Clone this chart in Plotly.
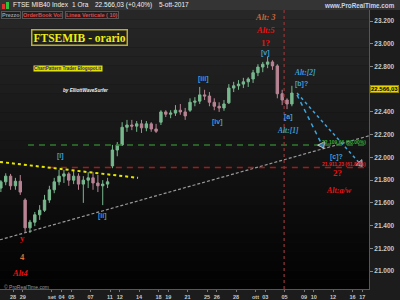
import plotly.graph_objects as go

# ---------------- data ----------------
# half-day bars (trading-day index, 0 = 28 Aug)
bar_t = [-1.25 + 0.5 * i for i in range(61)]
opens = [21730,21785,21835,21750,21790,21625,21380,21430,21495,21535,
         21625,21715,21785,21835,21855,21800,21835,21765,21800,21820,
         21775,21750,21765,21925,22065,22110,22265,22285,22275,22295,
         22260,22295,22250,22310,22400,22380,22390,22415,22400,22415,
         22485,22495,22550,22540,22485,22450,22435,22480,22610,22630,
         22645,22665,22690,22745,22795,22820,22840,22805,22560,22505,22470]
highs = [21800,21860,21855,21820,21845,21640,21450,21520,21580,21670,
         21750,21820,21890,21890,21870,21890,21860,21835,21870,21870,
         21845,21800,21820,22110,22135,22310,22330,22330,22320,22330,
         22320,22310,22295,22415,22415,22415,22460,22470,22435,22520,
         22530,22620,22595,22575,22520,22485,22505,22645,22665,22680,
         22700,22705,22770,22820,22840,22885,22855,22820,22595,22520,22630]
lows = [21695,21755,21715,21715,21670,21335,21335,21395,21450,21520,
        21600,21685,21755,21775,21750,21765,21715,21600,21730,21715,
        21695,21580,21730,21905,22010,22100,22225,22240,22225,22215,
        22230,22225,22215,22285,22355,22345,22365,22375,22330,22400,
        22450,22470,22505,22450,22415,22400,22410,22470,22575,22595,
        22610,22620,22655,22715,22750,22785,22770,22520,22460,22425,22450]
closes = [21785,21835,21750,21790,21695,21380,21430,21495,21535,21625,
          21715,21785,21835,21855,21800,21835,21765,21800,21820,21775,
          21750,21765,21785,22065,22110,22265,22285,22275,22295,22260,
          22295,22250,22230,22400,22380,22390,22415,22400,22365,22485,
          22495,22550,22540,22485,22450,22435,22470,22610,22630,22645,
          22665,22690,22745,22795,22820,22840,22805,22560,22505,22470,22566]

tick_pos = [0, 1, 4, 5, 6, 8, 10, 11, 13, 15, 16, 18, 20, 21, 23, 25, 26, 28, 30, 31, 33, 35, 36]
tick_lbl = ["28", "29", "set", "04", "05", "07", "11", "12", "14", "18", "19", "21",
            "25", "26", "28", "ott", "03", "05", "09", "10", "12", "16", "17"]
price_ticks = [21000, 21200, 21400, 21600, 21800, 22000, 22200, 22400, 22800, 23000, 23200]

last_price = 22566.03
fib50 = 22109.66
fib618 = 21911.23
vline_t = 27.95

yellow_t = [-1.34, 12.89]
yellow_p = [21960, 21820]
gray_t = [-1.34, 36.7]
gray_p = [21275, 22190]
fib50_t = [1.55, 36.7]
fib618_t = [3.8, 36.7]
arrowA_t = [29.28, 35.77]
arrowA_p = [22566, 21945]
arrowB_t = [29.28, 31.86]
arrowB_p = [22550, 22109.66]

X_RANGE = [-1.34, 36.7]
Y_RANGE = [20842, 23297]

# ---------------- figure ----------------
fig = go.Figure()

fig.add_trace(go.Scatter(x=gray_t, y=gray_p, mode="lines",
                         line=dict(color="#9a9a9a", width=1.2, dash="3px,2px")))
fig.add_trace(go.Scatter(x=fib50_t, y=[fib50, fib50], mode="lines",
                         line=dict(color="#2f7a2f", width=1.6, dash="6px,5px")))
fig.add_trace(go.Scatter(x=fib618_t, y=[fib618, fib618], mode="lines",
                         line=dict(color="#a81a1a", width=1.6, dash="6px,5px")))
fig.add_trace(go.Scatter(x=yellow_t, y=yellow_p, mode="lines",
                         line=dict(color="#e6e600", width=2, dash="dot")))

fig.add_trace(go.Candlestick(
    x=bar_t, open=opens, high=highs, low=lows, close=closes,
    increasing=dict(line=dict(color="#78b88e", width=1), fillcolor="#78b88e"),
    decreasing=dict(line=dict(color="#b88494", width=1), fillcolor="#b88494"),
    whiskerwidth=0))

fig.add_trace(go.Scatter(x=arrowA_t, y=arrowA_p, mode="lines+markers",
                         line=dict(color="#3ca6e0", width=1.5, dash="dot"),
                         marker=dict(symbol="triangle-up", size=[0, 7], angleref="previous",
                                     color="#3ca6e0")))
fig.add_trace(go.Scatter(x=arrowB_t, y=arrowB_p, mode="lines+markers",
                         line=dict(color="#3ca6e0", width=1.5, dash="4px,4px"),
                         marker=dict(symbol="triangle-up", size=[0, 7], angleref="previous",
                                     color="#3ca6e0")))

PH = 279.0
PW = 369.0
def px(xp):
    return xp / PW
def py(yp):
    return (289 - yp) / PH

shapes = []
# background gradient bands in plot area
N = 30
for i in range(N):
    f = (i + 0.5) / N
    c = int(2 + 38 * f)
    shapes.append(dict(type="rect", xref="paper", yref="paper", x0=0, x1=1,
                       y0=i / N, y1=(i + 1) / N, fillcolor=f"rgb({c},{c},{c})",
                       line=dict(width=0), layer="below"))
# header bar
shapes.append(dict(type="rect", xref="paper", yref="paper", x0=0, x1=400 / PW,
                   y0=1, y1=1 + 10 / PH, fillcolor="#343434", line=dict(width=0)))
shapes.append(dict(type="rect", xref="paper", yref="paper", x0=px(2), x1=px(5),
                   y0=py(9), y1=py(4), fillcolor="#e03030", line=dict(width=0)))
shapes.append(dict(type="rect", xref="paper", yref="paper", x0=px(6), x1=px(9),
                   y0=py(9), y1=py(2), fillcolor="#30c040", line=dict(width=0)))
# vertical marker line
shapes.append(dict(type="line", xref="x", yref="paper", x0=vline_t, x1=vline_t,
                   y0=0, y1=1, line=dict(color="#8a3434", width=1.3, dash="dot")))
fig.update_layout(shapes=shapes)

ann = []
def txt(x, y, t, color, size, family="Liberation Sans", xref="x", yref="y", **kw):
    d = dict(x=x, y=y, xref=xref, yref=yref, text=t, showarrow=False,
             xanchor="center", yanchor="middle",
             font=dict(color=color, size=size, family=family))
    d.update(kw)
    ann.append(d)

# header texts
hx = dict(xref="paper", yref="paper", xanchor="left")
txt(px(11), py(5), "FTSE MIB40 Index", "#f0f0f0", 6.5, **hx)
txt(px(70), py(5), "1 Ora", "#f0f0f0", 6.5, **hx)
txt(px(93), py(5), "22.566,03 (+0,40%)", "#f0f0f0", 6.5, **hx)
txt(px(157), py(5), "5-ott-2017", "#f0f0f0", 6.5, **hx)
txt(px(397), py(5.5), "<b>www.ProRealTime.com</b>", "#c8d2ee", 6.3,
    xref="paper", yref="paper", xanchor="right")
txt(px(1), py(15), "<b>Prezzo</b>", "#9a9a9a", 5.5, bordercolor="#555", borderpad=0,
    bgcolor="#1e1e1e", **hx)
txt(px(22), py(15), "<b>OrderBook Vol</b>", "#e04848", 5.5, bordercolor="#555", borderpad=0,
    bgcolor="#1e1e1e", **hx)
txt(px(65), py(15), "<b>Linea Verticale ( 10)</b>", "#e04848", 5.5, bordercolor="#555",
    borderpad=0, bgcolor="#1e1e1e", **hx)

# title box
txt(px(79), py(37.5), "<b>FTSEMIB - orario</b>", "#eeee10", 11.5, family="Liberation Serif",
    xref="paper", yref="paper", bordercolor="#b8ae30", borderwidth=1.5, borderpad=1,
    bgcolor="#202020")
txt(px(68), py(68), "<b>ChartPattern Trader Blogspot.it</b>", "#2a2a80", 4.5,
    xref="paper", yref="paper", bgcolor="#e2e200", borderpad=0)
txt(px(85), py(91), "<b><i>by ElliottWaveSurfer</i></b>", "#f0f0f0", 4.6,
    xref="paper", yref="paper")

# last price label
txt(px(384.5), py(89), "<b>22.566,03</b>", "#000000", 6, xref="paper", yref="paper",
    bgcolor="#e8d400", bordercolor="#9a8a00", borderpad=0)

# fib labels
txt(px(368), fib50, "<b>22.109,66 (50.00%)</b>", "#3aaa3a", 5, xref="paper",
    xanchor="right", yshift=3)
txt(px(368), fib618, "<b>21.911,23 (61.80%)</b>", "#e82020", 5, xref="paper",
    xanchor="right", yshift=3)

BLUE = "#3c9fd8"
RED = "#e81212"
SERIF = "Liberation Serif"
txt(25.98, 23235, "<b><i>Alt: 3</i></b>", "#c8683a", 8.5, family=SERIF)
txt(26.08, 23121, "<b><i>Alt:5</i></b>", RED, 8.5, family=SERIF)
txt(26.08, 23006, "<b>1?</b>", RED, 9, family=SERIF)
txt(26.08, 22918, "<b>[v]</b>", BLUE, 7)
txt(19.59, 22690, "<b>[iii]</b>", BLUE, 7)
txt(21.13, 22311, "<b>[iv]</b>", BLUE, 7)
txt(28.35, 22355, "<b>[a]</b>", BLUE, 7)
txt(28.35, 22241, "<b><i>Alt:[1]</i></b>", BLUE, 7.5, family=SERIF)
txt(30.1, 22751, "<b><i>Alt:[2]</i></b>", BLUE, 7.5, family=SERIF)
txt(29.79, 22646, "<b>[b]?</b>", BLUE, 7)
txt(33.4, 22003, "<b>[c]?</b>", BLUE, 7)
txt(33.5, 21862, "<b>2?</b>", RED, 9, family=SERIF)
txt(33.6, 21713, "<b><i>Alt:a/w</i></b>", RED, 8, family=SERIF)
txt(4.85, 22012, "<b>[i]</b>", BLUE, 7)
txt(9.18, 21484, "<b>[ii]</b>", BLUE, 7)
txt(0.93, 21290, "<b>y</b>", RED, 9, family=SERIF)
txt(1.03, 21123, "<b>4</b>", "#e07030", 8.5, family=SERIF)
txt(0.72, 20985, "<b><i>Alt4</i></b>", RED, 8.5, family=SERIF)
txt(px(2), py(286.5), "© ProRealTime.com", "#9a9a9a", 5, xref="paper", yref="paper",
    xanchor="left")

fig.update_layout(
    annotations=ann,
    width=400, height=300,
    margin=dict(l=0, r=31, t=10, b=11),
    paper_bgcolor="#1c1c1c",
    plot_bgcolor="#111111",
    showlegend=False,
    separators=",.",
    xaxis=dict(range=X_RANGE, tickvals=tick_pos, ticktext=tick_lbl, tickangle=0,
               rangeslider=dict(visible=False), showgrid=False, zeroline=False,
               showline=True, linecolor="#5c5a3c", linewidth=1,
               ticks="outside", ticklen=2, tickcolor="#777",
               tickfont=dict(size=5.5, color="#c8c8c8", family="Liberation Sans", weight="bold")),
    yaxis=dict(range=Y_RANGE, side="right", tickvals=price_ticks, tickformat=",.0f",
               showgrid=False, zeroline=False, showline=True, linecolor="#5c5a3c",
               linewidth=1, ticks="outside", ticklen=3, tickcolor="#888",
               tickfont=dict(size=6.5, color="#c8c8c8", family="Liberation Sans", weight="bold")),
)

fig.write_html("out.html")
